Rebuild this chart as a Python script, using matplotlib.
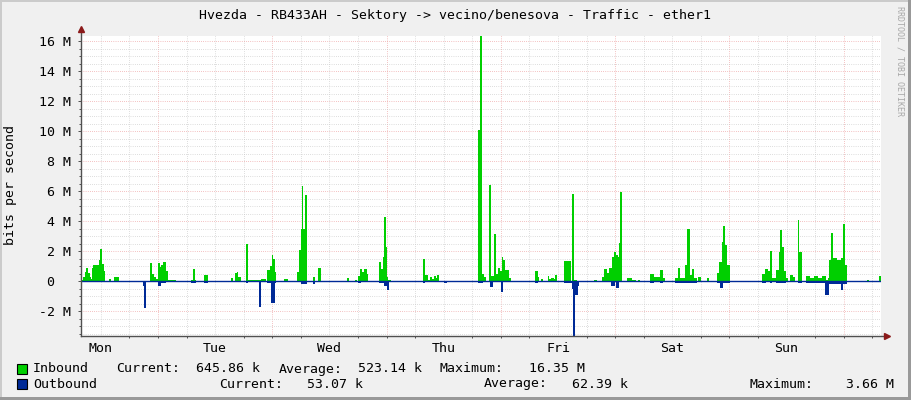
import matplotlib
matplotlib.use('Agg')
import matplotlib.pyplot as plt
from matplotlib.patches import Rectangle
import numpy as np

plt.rcParams['font.family'] = ['DejaVu Sans Mono', 'DejaVu Sans']

# ---------------- data ----------------
title = "Hvezda - RB433AH - Sektory -> vecino/benesova - Traffic - ether1"
y_label = "bits per second"
day_labels = ['Mon', 'Tue', 'Wed', 'Thu', 'Fri', 'Sat', 'Sun']
day_label_hours = [12, 36, 60, 84, 108, 132, 156]   # hours since Monday 00:00
time_start_h = 7.83
time_end_h = 175.83
y_ticks_m = [-2, 0, 2, 4, 6, 8, 10, 12, 14, 16]
y_tick_labels = ['-2 M', '0  ', '2 M', '4 M', '6 M', '8 M', '10 M', '12 M', '14 M', '16 M']

# (hour since Monday 00:00, Mbit/s) step samples
inbound_steps = [
    (7.83, 0.10), (8.25, 0.30), (8.67, 0.60), (8.98, 0.90), (9.30, 0.55), (9.72, 0.25),
    (9.99, 0.15), (10.20, 0.90), (10.45, 1.10), (10.87, 1.05), (11.71, 1.40), (11.78, 2.15),
    (12.20, 1.15), (12.66, 0.70), (12.93, 0.00), (13.71, 0.13), (14.13, 0.00), (14.76, 0.27),
    (15.75, 0.00),
    (22.33, 1.18), (22.72, 0.45), (23.09, 0.30), (23.66, 0.15), (24.08, 1.20), (24.43, 0.95),
    (24.70, 1.10), (25.13, 1.27), (25.76, 0.70), (26.18, 0.10), (26.60, 0.05), (27.86, 0.00),
    (30.93, 0.10), (31.40, 0.80), (31.82, 0.10), (32.04, 0.00), (33.66, 0.40), (34.50, 0.00),
    (39.26, 0.18), (39.81, 0.00), (40.17, 0.55), (40.59, 0.62), (40.80, 0.25), (41.36, 0.00),
    (42.48, 2.47), (42.90, 0.05), (43.32, 0.08), (45.56, 0.15), (46.61, 0.00), (46.95, 0.73),
    (47.52, 1.00), (48.00, 1.73), (48.21, 1.50), (48.56, 0.60), (48.84, 0.00),
    (50.45, 0.12), (51.29, 0.00), (53.25, 0.62), (53.60, 2.07), (53.96, 3.50), (54.17, 6.33),
    (54.55, 3.50), (54.88, 5.73), (55.22, 2.07), (55.35, 0.00), (56.48, 0.30), (57.03, 0.00),
    (57.66, 0.85), (58.16, 0.00),
    (63.62, 0.22), (64.16, 0.00), (65.36, 0.05), (65.84, 0.00), (66.05, 0.33), (66.41, 0.80),
    (66.89, 0.62), (67.31, 0.80), (67.82, 0.47), (68.15, 0.00),
    (70.46, 1.29), (70.82, 0.84), (71.25, 1.62), (71.40, 4.30), (71.80, 2.29), (72.02, 0.30),
    (72.35, 0.05), (72.86, 0.00),
    (79.70, 1.45), (80.10, 0.40), (80.75, 0.10), (81.11, 0.30), (81.53, 0.15), (81.95, 0.35),
    (82.37, 0.20), (82.64, 0.40), (82.94, 0.00),
    (91.25, 10.07), (91.61, 16.35), (92.03, 0.50), (92.45, 0.30), (92.87, 0.00), (93.52, 6.40),
    (93.98, 0.35), (94.52, 3.13), (94.97, 0.50), (95.32, 0.90), (95.81, 0.70), (96.17, 1.58),
    (96.50, 1.40), (96.92, 0.73), (97.76, 0.22), (98.12, 0.00),
    (103.22, 0.67), (103.72, 0.30), (104.06, 0.00), (104.42, 0.13), (104.90, 0.00),
    (105.83, 0.33), (106.16, 0.13), (106.58, 0.20), (107.09, 0.13), (107.42, 0.40),
    (107.78, 0.00),
    (109.31, 1.33), (110.72, 0.00), (111.00, 5.80), (111.45, 0.10), (111.91, 0.00),
    (115.61, 0.10), (116.11, 0.00),
    (117.22, 0.30), (117.71, 0.84), (118.21, 0.55), (118.76, 0.90), (119.33, 1.62),
    (119.68, 1.96), (120.16, 1.75), (120.52, 1.58), (120.85, 2.51), (121.05, 5.96),
    (121.49, 0.00),
    (122.47, 0.20), (123.52, 0.10), (124.37, 0.00), (124.85, 0.05), (125.20, 0.00),
    (127.30, 0.47), (128.14, 0.29), (129.40, 0.73), (130.09, 0.20), (130.45, 0.00),
    (132.55, 0.20), (133.24, 0.89), (133.60, 0.20), (134.65, 1.07), (135.13, 3.51),
    (135.70, 0.40), (136.06, 0.80), (136.54, 0.20), (137.11, 0.00), (137.38, 0.30),
    (137.95, 0.00), (139.21, 0.20), (139.76, 0.00),
    (141.31, 0.55), (141.86, 1.29), (142.36, 2.62), (142.65, 3.70), (143.05, 2.40),
    (143.54, 1.07), (144.10, 0.00),
    (150.76, 0.50), (151.45, 0.84), (152.14, 0.67), (152.50, 2.00), (152.92, 0.20),
    (153.76, 0.73), (154.32, 1.96), (154.66, 3.44), (155.02, 2.29), (155.50, 0.70),
    (155.86, 0.20), (156.34, 0.00), (156.70, 0.40), (157.39, 0.30), (157.81, 0.00),
    (158.31, 4.07), (158.70, 1.96), (159.15, 0.00),
    (160.06, 0.33), (160.90, 0.20), (161.74, 0.35), (162.58, 0.20), (163.42, 0.35),
    (164.26, 0.10), (164.68, 0.20), (164.89, 1.38), (165.38, 3.20), (165.84, 1.51),
    (166.57, 1.40), (167.41, 1.55), (167.80, 3.80), (168.19, 1.07), (168.61, 0.00),
    (172.81, 0.05), (173.36, 0.00), (175.45, 0.35), (175.83, 0.35),
]

outbound_steps = [
    (7.83, 0.00), (20.85, 0.30), (21.00, 1.78), (21.41, 0.00), (24.08, 0.31), (24.64, 0.12),
    (25.76, 0.00), (30.93, 0.10), (32.04, 0.00), (33.66, 0.10), (34.50, 0.00),
    (42.41, 0.10), (42.96, 0.00), (45.20, 1.71), (45.69, 0.00), (46.95, 0.10), (47.81, 1.44),
    (48.56, 0.10), (48.84, 0.00), (54.09, 0.20), (55.35, 0.00), (56.48, 0.20), (57.03, 0.00),
    (66.05, 0.10), (66.56, 0.00), (70.46, 0.10), (71.51, 0.35), (72.02, 0.60), (72.57, 0.00),
    (79.70, 0.10), (80.06, 0.00), (84.11, 0.10), (84.62, 0.00),
    (91.25, 0.10), (92.30, 0.00), (93.70, 0.37), (94.27, 0.00), (96.02, 0.70), (96.50, 0.00),
    (103.22, 0.10), (103.72, 0.00), (109.31, 0.10), (110.93, 0.50), (111.20, 3.66),
    (111.62, 0.93), (112.12, 0.30), (112.33, 0.00),
    (119.12, 0.30), (119.89, 0.00), (120.16, 0.48), (120.73, 0.00),
    (127.30, 0.10), (128.14, 0.00), (129.40, 0.10), (130.09, 0.00), (132.55, 0.10),
    (137.11, 0.00), (141.31, 0.10), (142.01, 0.48), (142.57, 0.10), (144.10, 0.00),
    (150.76, 0.10), (151.66, 0.00), (152.50, 0.10), (152.92, 0.00), (153.76, 0.15),
    (155.86, 0.00), (158.31, 0.10), (159.15, 0.00),
    (160.06, 0.15), (164.05, 0.93), (164.83, 0.20), (167.41, 0.60), (167.83, 0.20),
    (168.61, 0.00), (175.45, 0.05), (175.83, 0.05),
]

series_names = ['Inbound', 'Outbound']
series_colors = ['#00CF00', '#002A97']
inbound_stats = ['Current:', '645.86 k', 'Average:', '523.14 k', 'Maximum:', '16.35 M']
outbound_stats = ['Current:', '53.07 k', 'Average:', '62.39 k', 'Maximum:', '3.66 M']

# ---------------- figure ----------------
W, H = 911, 400
fig = plt.figure(figsize=(W / 100, H / 100), dpi=100)
fig.patch.set_facecolor('#F0F0F0')

def fx(px):
    return px / W

def fy(py):
    return 1 - py / H

# 3D-ish frame
fig.patches.append(Rectangle((0, 0), fx(2), 1, transform=fig.transFigure, color='#CBCBCB', lw=0))
fig.patches.append(Rectangle((0, fy(2)), 1, 2 / H, transform=fig.transFigure, color='#CBCBCB', lw=0))
fig.patches.append(Rectangle((fx(W - 3), 0), 3 / W, 1, transform=fig.transFigure, color='#999999', lw=0))
fig.patches.append(Rectangle((0, 0), 1, 3 / H, transform=fig.transFigure, color='#999999', lw=0))

ax = fig.add_axes([fx(81), fy(336), 800 / W, 300 / H])
ax.set_facecolor('white')
ax.set_xlim(time_start_h, time_end_h)
ax.set_ylim(-3.66, 16.35)

# grid
minor_col = '#C8C8C8'
major_col = '#EC9A9A'
dots = (0, (0.6, 1.6))
for h in np.arange(12, time_end_h, 6):
    major = (h % 24 == 0)
    ax.axvline(h, color=major_col if major else minor_col, lw=0.7, ls=dots, zorder=1)
for v in np.arange(-3.5, 16.4, 0.5):
    major = (abs(v % 2) < 1e-9)
    ax.axhline(v, color=major_col if major else minor_col, lw=0.7, ls=dots, zorder=1)

# data areas
ih = [p[0] for p in inbound_steps]
iv = [p[1] for p in inbound_steps]
oh = [p[0] for p in outbound_steps]
ov = [-p[1] for p in outbound_steps]
ax.fill_between(ih, 0, iv, step='post', color=series_colors[0], lw=0, zorder=2)
ax.fill_between(oh, 0, ov, step='post', color=series_colors[1], lw=0, zorder=2)
ax.axhline(0, color=series_colors[1], lw=1.0, zorder=3)

# axes decoration
for s in ax.spines.values():
    s.set_visible(False)
axis_col = '#505050'
arrow_col = '#8B1A1A'
ax.plot([0, 0], [0, 1.02], transform=ax.transAxes, color=axis_col, lw=1.0, clip_on=False, zorder=4)
ax.plot([0, 1.006], [0, 0], transform=ax.transAxes, color=axis_col, lw=1.0, clip_on=False, zorder=4)
ax.plot([0], [1.025], transform=ax.transAxes, marker='^', ms=4, color=arrow_col, clip_on=False, zorder=5)
ax.plot([1.008], [0], transform=ax.transAxes, marker='>', ms=4, color=arrow_col, clip_on=False, zorder=5)

ax.set_yticks(y_ticks_m)
ax.set_yticklabels(y_tick_labels)
ax.set_yticks(np.arange(-3.5, 16.4, 0.5), minor=True)
ax.tick_params(axis='y', which='major', length=2.5, width=0.7, color=axis_col, pad=4.5,
               labelsize=9.5, labelcolor='black')
ax.tick_params(axis='y', which='minor', length=1.5, width=0.7, color=axis_col)

ax.set_xticks(day_label_hours)
ax.set_xticklabels(day_labels)
ax.set_xticks(np.arange(12, time_end_h, 6), minor=True)
ax.tick_params(axis='x', which='major', length=0, pad=4, labelsize=9.5, labelcolor='black')
ax.tick_params(axis='x', which='minor', length=1.5, width=0.7, color=axis_col)

# texts
fig.text(fx(455), fy(15), title, ha='center', va='center', fontsize=9.5, color='black')
fig.text(fx(11), fy(185), y_label, ha='center', va='center', rotation=90, fontsize=9.5,
         color='black')
fig.text(fx(900), fy(6), 'RRDTOOL / TOBI OETIKER', ha='center', va='top', rotation=270,
         fontsize=6, color='#A8A8A8')

# legend
rows = [
    (369, series_names[0], series_colors[0], inbound_stats, [116, 196, 279, 358, 440, 529]),
    (384, series_names[1], series_colors[1], outbound_stats, [219, 307, 484, 572, 750, 846]),
]
for ypx, name, col, stats, xs in rows:
    fig.patches.append(Rectangle((fx(17), fy(ypx + 5)), 10 / W, 10 / H, transform=fig.transFigure,
                                 facecolor=col, edgecolor='black', lw=0.8))
    fig.text(fx(33), fy(ypx), name, ha='left', va='center', fontsize=9.5, color='black')
    for x, s in zip(xs, stats):
        fig.text(fx(x), fy(ypx), s, ha='left', va='center', fontsize=9.5, color='black')

fig.savefig('out.png', dpi=100, facecolor=fig.get_facecolor())
